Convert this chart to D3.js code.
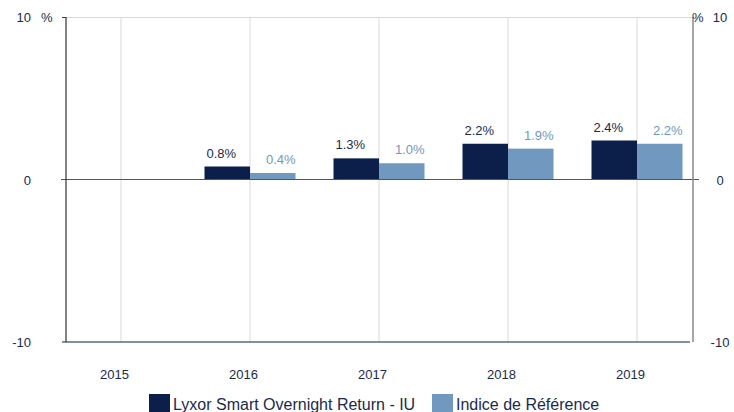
<!DOCTYPE html>
<html>
<head>
<meta charset="utf-8">
<script src="https://cdn.jsdelivr.net/npm/d3@7"></script>
<style>
  body { margin: 0; background: #fff; }
  text { font-family: "Liberation Sans", Arial, sans-serif; }
</style>
</head>
<body>
<div id="chart"></div>
<script>
// Data
const years = ["2015", "2016", "2017", "2018", "2019"];
const fundValues = [null, 0.8, 1.3, 2.2, 2.4];
const indexValues = [null, 0.4, 1.0, 1.9, 2.2];
const seriesNames = ["Lyxor Smart Overnight Return - IU", "Indice de Référence"];
const yTicks = [-10, 0, 10];

const width = 734, height = 412;
const plotLeft = 66, plotRight = 693, plotTop = 17, plotBottom = 342;
const darkColor = "#0b1f4a", lightColor = "#7198be", textColor = "#1a2a4e";

const svg = d3.select("#chart").append("svg")
    .attr("width", width)
    .attr("height", height);

const y = d3.scaleLinear().domain([-10, 10]).range([plotBottom, plotTop]);
// group centres sit on the light vertical gridlines
const x = d3.scalePoint().domain(years).range([121, 637]);
const barW = 45.5;

// gridlines
svg.selectAll(".vgrid")
    .data(years)
    .enter().append("line")
    .attr("x1", d => x(d)).attr("x2", d => x(d))
    .attr("y1", plotTop).attr("y2", plotBottom)
    .attr("stroke", "#d9d9d9").attr("stroke-width", 1);

svg.append("line")
    .attr("x1", plotLeft).attr("x2", plotRight)
    .attr("y1", plotTop + 0.5).attr("y2", plotTop + 0.5)
    .attr("stroke", "#d9d9d9");

// bars
const rows = years.map((yr, i) => ({ year: yr, fund: fundValues[i], index: indexValues[i] }))
    .filter(d => d.fund != null);

svg.selectAll(".fund")
    .data(rows)
    .enter().append("rect")
    .attr("x", d => x(d.year) - barW)
    .attr("width", barW)
    .attr("y", d => y(d.fund))
    .attr("height", d => y(0) - y(d.fund))
    .attr("fill", darkColor);

svg.selectAll(".index")
    .data(rows)
    .enter().append("rect")
    .attr("x", d => x(d.year))
    .attr("width", barW)
    .attr("y", d => y(d.index))
    .attr("height", d => y(0) - y(d.index))
    .attr("fill", lightColor);

// value labels
svg.selectAll(".fundLabel")
    .data(rows)
    .enter().append("text")
    .attr("x", d => x(d.year) - barW / 2 - 6)
    .attr("y", d => y(d.fund) - 9)
    .attr("text-anchor", "middle")
    .attr("font-size", 13)
    .attr("fill", textColor)
    .text(d => d.fund.toFixed(1) + "%");

svg.selectAll(".indexLabel")
    .data(rows)
    .enter().append("text")
    .attr("x", d => x(d.year) + barW / 2 + 8)
    .attr("y", d => y(d.index) - 9)
    .attr("text-anchor", "middle")
    .attr("font-size", 13)
    .attr("fill", lightColor)
    .text(d => d.index.toFixed(1) + "%");

// axes lines
svg.append("line")
    .attr("x1", plotLeft - 5).attr("x2", plotRight + 6)
    .attr("y1", y(0)).attr("y2", y(0))
    .attr("stroke", "#555").attr("stroke-width", 1.2);

svg.append("line")
    .attr("x1", plotLeft).attr("x2", plotLeft)
    .attr("y1", plotTop).attr("y2", plotBottom)
    .attr("stroke", "#333").attr("stroke-width", 1.2);
svg.append("line")
    .attr("x1", plotLeft - 4).attr("x2", plotLeft)
    .attr("y1", plotTop + 0.5).attr("y2", plotTop + 0.5)
    .attr("stroke", "#333");

svg.append("line")
    .attr("x1", plotRight).attr("x2", plotRight)
    .attr("y1", plotTop).attr("y2", plotBottom)
    .attr("stroke", "#888").attr("stroke-width", 1.5);

svg.append("line")
    .attr("x1", plotLeft - 4).attr("x2", plotRight - 3)
    .attr("y1", plotBottom).attr("y2", plotBottom)
    .attr("stroke", darkColor).attr("stroke-width", 1.2);

// y tick labels
svg.selectAll(".ytl")
    .data(yTicks)
    .enter().append("text")
    .attr("x", 31)
    .attr("y", d => y(d) + 5)
    .attr("text-anchor", "end")
    .attr("font-size", 13)
    .attr("fill", textColor)
    .text(d => d);

svg.selectAll(".ytr")
    .data(yTicks)
    .enter().append("text")
    .attr("x", 720)
    .attr("y", d => y(d) + 5)
    .attr("text-anchor", "middle")
    .attr("font-size", 13)
    .attr("fill", textColor)
    .text(d => d);

svg.append("text").attr("x", 41).attr("y", y(10) + 5)
    .attr("font-size", 13).attr("fill", textColor).text("%");
svg.append("text").attr("x", 692).attr("y", y(10) + 5)
    .attr("font-size", 13).attr("fill", textColor).text("%");

// x labels
svg.selectAll(".xl")
    .data(years)
    .enter().append("text")
    .attr("x", d => x(d) - 6.5)
    .attr("y", 379)
    .attr("text-anchor", "middle")
    .attr("font-size", 13)
    .attr("fill", textColor)
    .text(d => d);

// legend
const legend = svg.append("g");
const legendX = [149, 432];
seriesNames.forEach((name, i) => {
    legend.append("rect")
        .attr("x", legendX[i]).attr("y", 394)
        .attr("width", 21).attr("height", 18)
        .attr("fill", i === 0 ? darkColor : lightColor);
    legend.append("text")
        .attr("x", legendX[i] + 24).attr("y", 410)
        .attr("font-size", 16)
        .attr("fill", textColor)
        .text(name);
});
</script>
</body>
</html>
